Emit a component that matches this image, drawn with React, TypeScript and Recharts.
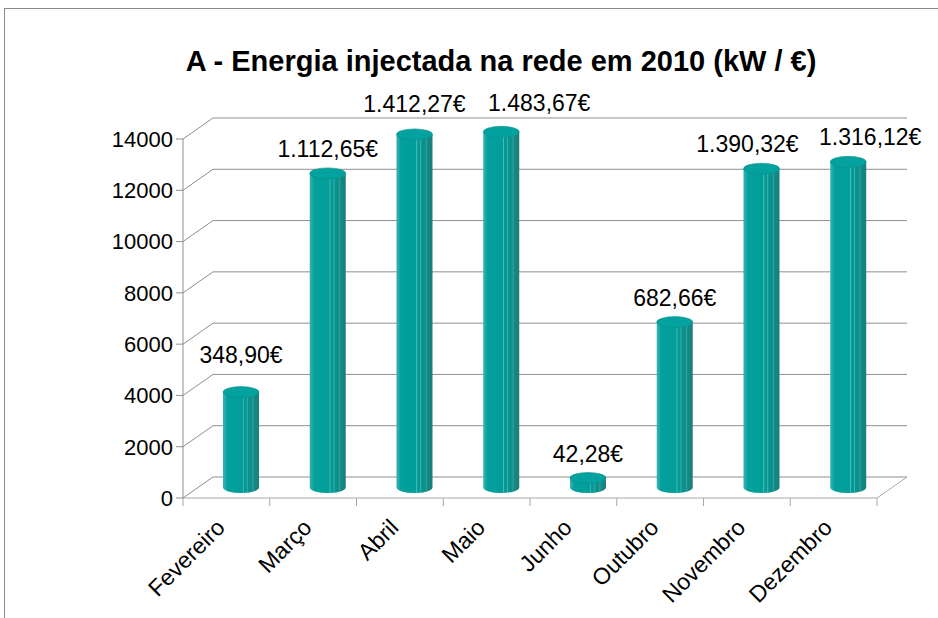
import { BarChart, Bar, XAxis, YAxis, CartesianGrid } from 'recharts';

// kW injected per month
const months = ['Fevereiro', 'Março', 'Abril', 'Maio', 'Junho', 'Outubro', 'Novembro', 'Dezembro'];
const energy = [3720, 12250, 13770, 13870, 370, 6450, 12430, 12700];
const euros = ['348,90€', '1.112,65€', '1.412,27€', '1.483,67€', '42,28€', '682,66€', '1.390,32€', '1.316,12€'];
const yTicks = [0, 2000, 4000, 6000, 8000, 10000, 12000, 14000];

const data = months.map((m, i) => ({ month: m, kw: energy[i], eur: euros[i] }));

// 3D depth offset of the back wall
const DX = 30;
const DY = -21;
const FONT = '"Liberation Sans", Arial, Helvetica, sans-serif';
const GRID = '#8f8f8f';
const AXIS = '#a8a8a8';

// Excel moved some labels around to avoid overlap
const labelShift: Record<string, [number, number]> = {
  Fevereiro: [0, -13],
  Abril: [0, -6],
  Maio: [38, -4],
  Novembro: [-14, 0],
  Dezembro: [22, 0],
};

const BackLine = (props: any) => {
  const { x1, y1, x2, index } = props;
  return (
    <g key={`bl-${index}`}>
      <line x1={x1} y1={y1} x2={x1 + DX} y2={y1 + DY} stroke={GRID} strokeWidth={1} />
      <line x1={x1 + DX} y1={y1 + DY} x2={x2 + DX} y2={y1 + DY} stroke={GRID} strokeWidth={1} />
      {index === 0 && (
        <line x1={x2} y1={y1} x2={x2 + DX} y2={y1 + DY} stroke={AXIS} strokeWidth={1} />
      )}
    </g>
  );
};

const Cylinder = (props: any) => {
  const { x, y, width, height, payload } = props;
  const rx = width / 2;
  const ry = 5.5;
  const cx = x + rx + DX / 2;
  const top = y + DY / 2;
  const bottom = y + height + DY / 2;
  const left = cx - rx;
  const right = cx + rx;
  const [sx, sy] = labelShift[payload.month] || [0, 0];
  return (
    <g>
      <path
        d={`M${left},${top} L${left},${bottom} A${rx},${ry} 0 0 0 ${right},${bottom} L${right},${top} Z`}
        fill="url(#cyl)"
      />
      <ellipse cx={cx} cy={top} rx={rx} ry={ry} fill="#04a29e" stroke="#0b8f8b" strokeWidth={0.6} />
      <text
        x={cx + sx}
        y={top - ry - 11 + sy}
        textAnchor="middle"
        fontSize={23}
        fontFamily={FONT}
        fill="#000"
      >
        {payload.eur}
      </text>
    </g>
  );
};

const MonthTick = (props: any) => {
  const { x, y, payload, index } = props;
  const bw = 694 / months.length;
  const ly = y + 23;
  return (
    <g>
      <line x1={x - bw / 2} y1={y - 8} x2={x - bw / 2} y2={y} stroke={AXIS} />
      {index === months.length - 1 && (
        <line x1={x + bw / 2} y1={y - 8} x2={x + bw / 2} y2={y} stroke={AXIS} />
      )}
      <text
        x={x}
        y={ly}
        transform={`rotate(-45 ${x} ${ly})`}
        textAnchor="end"
        fontSize={23}
        fontFamily={FONT}
        fill="#000"
      >
        {payload.value}
      </text>
    </g>
  );
};

export default function App() {
  return (
    <div style={{ position: 'absolute', left: 0, top: 0, width: 938, height: 618, overflow: 'hidden', background: '#fff' }}>
      <div
        style={{
          position: 'absolute',
          left: 4,
          top: 8,
          width: 1000,
          height: 700,
          border: '1px solid #8a8a8a',
        }}
      />
      <div
        style={{
          position: 'absolute',
          left: 0,
          top: 47,
          width: 1002,
          textAlign: 'center',
          fontFamily: FONT,
          fontWeight: 'bold',
          fontSize: 29,
          lineHeight: '29px',
          whiteSpace: 'nowrap',
          color: '#000',
        }}
      >
        A - Energia injectada na rede em 2010 (kW / €)
      </div>
      <div style={{ position: 'absolute', left: 0, top: 0 }}>
        <BarChart
          width={938}
          height={618}
          data={data}
          margin={{ top: 139, right: 61, left: 113, bottom: 20 }}
        >
          <defs>
            <linearGradient id="cyl" x1="0" y1="0" x2="1" y2="0">
              <stop offset="0" stopColor="#36b3af" />
              <stop offset="0.07" stopColor="#1eaaa6" />
              <stop offset="0.12" stopColor="#03a09c" />
              <stop offset="0.54" stopColor="#009d99" />
              <stop offset="0.56" stopColor="#4fbdb9" />
              <stop offset="0.59" stopColor="#019a96" />
              <stop offset="0.65" stopColor="#059895" />
              <stop offset="0.67" stopColor="#40b2ae" />
              <stop offset="0.7" stopColor="#079490" />
              <stop offset="0.8" stopColor="#0f8e8a" />
              <stop offset="0.83" stopColor="#34a29e" />
              <stop offset="0.86" stopColor="#128a86" />
              <stop offset="1" stopColor="#1c7e7b" />
            </linearGradient>
          </defs>
          <CartesianGrid vertical={false} horizontal={BackLine} />
          <XAxis
            dataKey="month"
            interval={0}
            height={100}
            axisLine={{ stroke: AXIS }}
            tickLine={false}
            tickSize={8}
            tickMargin={0}
            tick={MonthTick}
          />
          <YAxis
            domain={[0, 14000]}
            ticks={yTicks}
            width={70}
            axisLine={{ stroke: GRID }}
            tickLine={{ stroke: GRID }}
            tickSize={7}
            tickMargin={3}
            tick={{ fontSize: 22, fontFamily: FONT, fill: '#000' }}
          />
          <Bar dataKey="kw" barSize={36} shape={Cylinder} isAnimationActive={false} />
        </BarChart>
      </div>
    </div>
  );
}
